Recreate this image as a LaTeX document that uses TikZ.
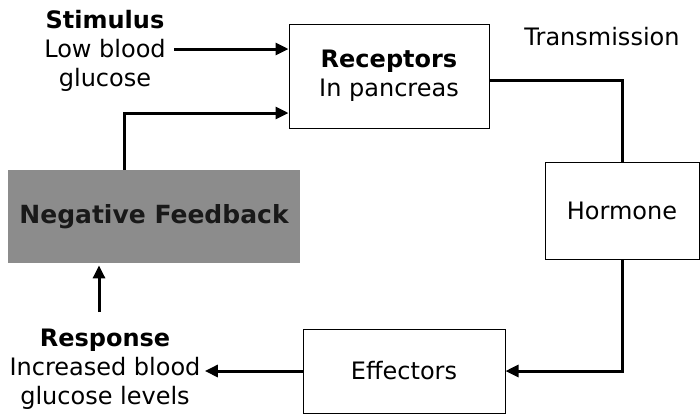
\documentclass[tikz,border=0pt]{standalone}
\usepackage{fontspec}
\setmainfont{DejaVu Sans}
\usepackage{tikz}
\usetikzlibrary{positioning, arrows.meta, calc}

\begin{document}
\begin{tikzpicture}[
    x=0.5pt, y=-0.5pt,
    box/.style={draw, line width=0.5pt, align=center, inner sep=0pt},
    fbbox/.style={fill=black!45, minimum width=146pt, minimum height=46.5pt, inner sep=0pt,
        font=\fontsize{12.5}{14}\selectfont\bfseries, text=black!90},
    txt/.style={align=center, inner sep=2pt},
    arr/.style={-{Triangle[length=6.5pt, width=6pt]}, line width=1.5pt},
    line/.style={line width=1.5pt},
    every node/.style={font=\fontsize{12}{14.5}\selectfont}
]
\useasboundingbox (0,0) rectangle (700,414);

% Boxes
\node[box, minimum width=100pt, minimum height=52pt] (rec) at (389,76) {\textbf{Receptors}\\In pancreas};
\node[box, minimum width=77pt, minimum height=48.5pt] (hor) at (622,210.5) {Hormone};
\node[box, minimum width=101pt, minimum height=42pt] (eff) at (404,371) {Effectors};

% Negative feedback block
\node[fbbox] (fb) at (154,216.5) {Negative Feedback};

% Labels
\node[txt] (stim) at (105,51) {\textbf{Stimulus}\\Low blood\\glucose};
\node[txt] (resp) at (105,369) {\textbf{Response}\\Increased blood\\glucose levels};
\node (trans) at (602,37) {Transmission};

% Arrows
\draw[arr] ($(stim.east)+(4,-2)$) -- ($(rec.west)+(0,-27)$);
\draw[arr] ($(fb.north)+(-30,0)$) |- ($(rec.west)+(0,37)$);
\draw[line] ($(rec.east)+(0,4)$) -| (hor.north);
\draw[arr] (hor.south) |- (eff.east);
\draw[arr] (eff.west) -- (eff.west -| resp.east);
\coordinate (up) at (99,312);
\draw[arr] (up) -- ($(up |- fb.south)+(0,2)$);

\end{tikzpicture}
\end{document}
